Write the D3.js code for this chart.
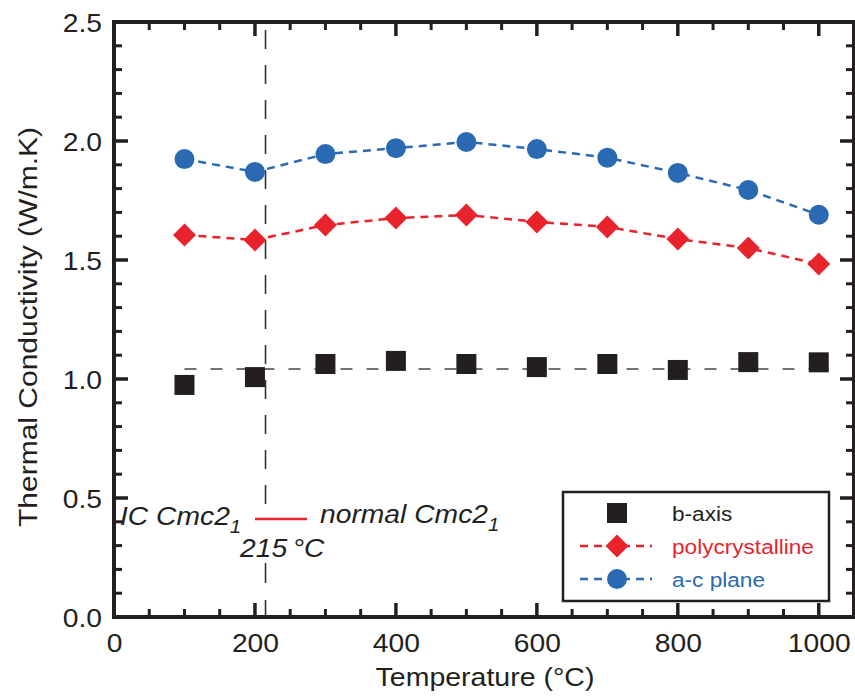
<!DOCTYPE html>
<html>
<head>
<meta charset="utf-8">
<script src="https://cdn.jsdelivr.net/npm/d3@7"></script>
<style>
  html, body { margin: 0; padding: 0; background: #fff; }
  svg { display: block; font-family: "Liberation Sans", Arial, sans-serif; }
</style>
</head>
<body>
<svg id="chart" width="855" height="697"></svg>
<script>
// Measurement temperatures (°C)
const temperatures = [100, 200, 300, 400, 500, 600, 700, 800, 900, 1000];
// Thermal conductivity (W/m.K) per orientation
const bAxis = [0.975, 1.008, 1.063, 1.076, 1.063, 1.05, 1.063, 1.038, 1.071, 1.07];
const polycrystalline = [1.605, 1.584, 1.647, 1.676, 1.689, 1.66, 1.639, 1.588, 1.55, 1.483];
const acPlane = [1.924, 1.87, 1.945, 1.97, 1.996, 1.966, 1.93, 1.866, 1.794, 1.69];
// Reference level for the b-axis data and the phase transition temperature
const bAxisMean = 1.042;
const transitionT = 215;
const xTicks = [0, 200, 400, 600, 800, 1000];
const yTicks = [0.0, 0.5, 1.0, 1.5, 2.0, 2.5];
const seriesNames = ["b-axis", "polycrystalline", "a-c plane"];

const svg = d3.select("#chart");
const m = { left: 114, top: 22, right: 854, bottom: 617 };

const x = d3.scaleLinear().domain([0, 1050]).range([m.left, m.right]);
const y = d3.scaleLinear().domain([0, 2.5]).range([m.bottom, m.top]);

const red = "#e8232b", blue = "#2a6ab3", black = "#231f20";

// Widen text horizontally (the typeface runs a little wider than Liberation Sans)
function stretch(sel, k) {
  sel.each(function () {
    const len = this.getComputedTextLength();
    this.setAttribute("textLength", (len * k).toFixed(1));
    this.setAttribute("lengthAdjust", "spacingAndGlyphs");
  });
}

// Inward ticks on all four sides
const minorX = d3.range(0, 1051, 50).filter(v => v % 200 !== 0);
const minorY = d3.range(0, 2.501, 0.1).map(v => +v.toFixed(1)).filter(v => Math.abs(v * 2 - Math.round(v * 2)) > 1e-6);

const ticks = svg.append("g").attr("stroke", black);
function tickLines(vals, len, w) {
  vals.forEach(v => {
    ticks.append("line").attr("x1", x(v)).attr("x2", x(v)).attr("y1", m.bottom).attr("y2", m.bottom - len).attr("stroke-width", w);
    ticks.append("line").attr("x1", x(v)).attr("x2", x(v)).attr("y1", m.top).attr("y2", m.top + len).attr("stroke-width", w);
  });
}
function tickLinesY(vals, len, w) {
  vals.forEach(v => {
    ticks.append("line").attr("y1", y(v)).attr("y2", y(v)).attr("x1", m.left).attr("x2", m.left + len).attr("stroke-width", w);
    ticks.append("line").attr("y1", y(v)).attr("y2", y(v)).attr("x1", m.right).attr("x2", m.right - len).attr("stroke-width", w);
  });
}
tickLines(minorX, 8, 3);
tickLines(xTicks, 14, 3.5);
tickLinesY(minorY, 8, 3);
tickLinesY(yTicks, 14, 3.5);

// Frame
svg.append("rect").attr("x", m.left).attr("y", m.top)
  .attr("width", m.right - m.left).attr("height", m.bottom - m.top)
  .attr("fill", "none").attr("stroke", black).attr("stroke-width", 4);

// Tick labels via d3 axes (lines hidden; ticks drawn above)
const xAxis = svg.append("g").attr("transform", `translate(0,${m.bottom})`)
  .call(d3.axisBottom(x).tickValues(xTicks).tickSize(0).tickPadding(17).tickFormat(d3.format("d")));
const yAxis = svg.append("g").attr("transform", `translate(${m.left},0)`)
  .call(d3.axisLeft(y).tickValues(yTicks).tickSize(0).tickPadding(12).tickFormat(d3.format(".1f")));
[xAxis, yAxis].forEach(a => {
  a.select(".domain").remove();
  a.selectAll("text").attr("font-size", 25).attr("fill", "#231f20")
    .attr("font-family", "Liberation Sans, Arial, sans-serif");
});
xAxis.selectAll("text").attr("dy", "0.71em");
yAxis.selectAll("text").attr("dy", "0.37em");
stretch(xAxis.selectAll("text"), 1.13);
stretch(yAxis.selectAll("text"), 1.13);

// Axis titles
const xt = svg.append("text").attr("x", 485).attr("y", 686)
  .attr("text-anchor", "middle").attr("font-size", 25).attr("fill", black)
  .text("Temperature (°C)");
stretch(xt, 1.14);
const yt = svg.append("text").attr("transform", `translate(37,${327}) rotate(-90)`)
  .attr("text-anchor", "middle").attr("font-size", 25).attr("fill", black)
  .text("Thermal Conductivity (W/m.K)");
stretch(yt, 1.2);

// Transition marker (vertical dashed line, broken around the annotation)
const vline = svg.append("g").attr("stroke", "#333").attr("stroke-width", 1.6);
vline.append("line").attr("x1", x(transitionT)).attr("x2", x(transitionT)).attr("y1", m.top + 8).attr("y2", 505)
  .attr("stroke-dasharray", "19,16");
vline.append("line").attr("x1", x(transitionT)).attr("x2", x(transitionT)).attr("y1", 563).attr("y2", m.bottom)
  .attr("stroke-dasharray", "20,17");

// b-axis average level
svg.append("line").attr("x1", x(100)).attr("x2", x(1000)).attr("y1", y(bAxisMean)).attr("y2", y(bAxisMean))
  .attr("stroke", "#444").attr("stroke-width", 1.6).attr("stroke-dasharray", "12,14");

const line = d3.line().x((d, i) => x(temperatures[i])).y(d => y(d));

// a-c plane
svg.append("path").datum(acPlane).attr("d", line).attr("fill", "none")
  .attr("stroke", blue).attr("stroke-width", 2.5).attr("stroke-dasharray", "8,6");
svg.append("g").selectAll("circle").data(acPlane).join("circle")
  .attr("cx", (d, i) => x(temperatures[i])).attr("cy", d => y(d)).attr("r", 10).attr("fill", blue);

// polycrystalline
svg.append("path").datum(polycrystalline).attr("d", line).attr("fill", "none")
  .attr("stroke", red).attr("stroke-width", 2.5).attr("stroke-dasharray", "8,6");
const diamond = s => `M0,${-s}L${s},0L0,${s}L${-s},0Z`;
svg.append("g").selectAll("path").data(polycrystalline).join("path")
  .attr("transform", (d, i) => `translate(${x(temperatures[i])},${y(d)})`)
  .attr("d", diamond(11.5)).attr("fill", red);

// b-axis
svg.append("g").selectAll("rect").data(bAxis).join("rect")
  .attr("x", (d, i) => x(temperatures[i]) - 10).attr("y", d => y(d) - 10)
  .attr("width", 20).attr("height", 20).attr("fill", black);

// Phase annotation
const ann = svg.append("g").attr("font-size", 25).attr("font-style", "italic").attr("fill", black);
const t1 = ann.append("text").attr("x", 120).attr("y", 525);
t1.append("tspan").text("IC Cmc2");
t1.append("tspan").attr("font-size", 18).attr("dy", 8).text("1");
svg.append("line").attr("x1", 255).attr("x2", 307).attr("y1", 519).attr("y2", 519)
  .attr("stroke", red).attr("stroke-width", 2.5);
const t2 = ann.append("text").attr("x", 320).attr("y", 523);
t2.append("tspan").text("normal Cmc2");
t2.append("tspan").attr("font-size", 18).attr("dy", 8).text("1");
const t3 = ann.append("text").attr("x", 240).attr("y", 557).text("215\u2009°C");
stretch(ann.selectAll("text"), 1.13);

// Legend
const lg = svg.append("g");
lg.append("rect").attr("x", 563).attr("y", 492).attr("width", 266).attr("height", 109)
  .attr("fill", "#fff").attr("stroke", black).attr("stroke-width", 2.5);
const rows = [
  { name: seriesNames[0], color: black, yy: 513, shape: "square", lineOn: false },
  { name: seriesNames[1], color: red, yy: 546, shape: "diamond", lineOn: true },
  { name: seriesNames[2], color: blue, yy: 579, shape: "circle", lineOn: true }
];
rows.forEach(r => {
  if (r.lineOn) {
    lg.append("line").attr("x1", 580).attr("x2", 652).attr("y1", r.yy).attr("y2", r.yy)
      .attr("stroke", r.color).attr("stroke-width", 2.5).attr("stroke-dasharray", "8,6");
  }
  if (r.shape === "square") {
    lg.append("rect").attr("x", 607).attr("y", r.yy - 10).attr("width", 20).attr("height", 20).attr("fill", r.color);
  } else if (r.shape === "diamond") {
    lg.append("path").attr("transform", `translate(617,${r.yy})`).attr("d", diamond(11.5)).attr("fill", r.color);
  } else {
    lg.append("circle").attr("cx", 617).attr("cy", r.yy).attr("r", 10).attr("fill", r.color);
  }
  const t = lg.append("text").attr("x", 672).attr("y", r.yy + 8).attr("font-size", 20).attr("fill", r.color).text(r.name);
  stretch(t, 1.13);
});
</script>
</body>
</html>
